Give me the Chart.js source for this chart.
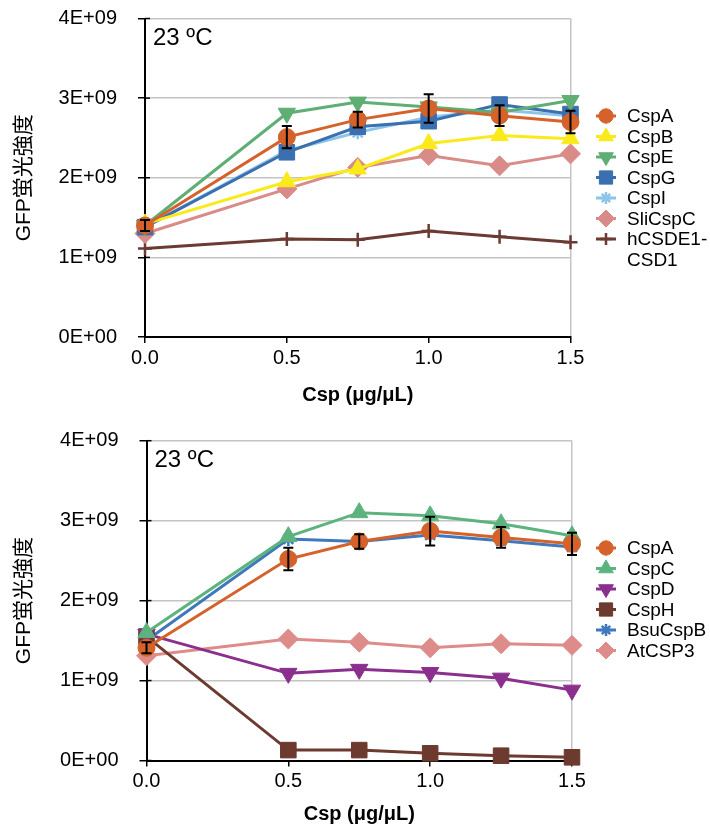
<!DOCTYPE html>
<html><head><meta charset="utf-8">
<script src="https://cdn.jsdelivr.net/npm/chart.js@4"></script>
<style>html,body{margin:0;padding:0;background:#fff;} canvas{display:block;position:absolute;left:0;}</style>
</head><body>
<canvas id="c1" width="710" height="415" style="top:0"></canvas>
<canvas id="c2" width="710" height="416" style="top:415px"></canvas>
<script>
// ---- data ----
const xValues = [0, 0.5, 0.75, 1.0, 1.25, 1.5];
const xTicks = [0, 0.5, 1.0, 1.5];
const yTicks = [0, 1e9, 2e9, 3e9, 4e9];
const tempLabel = '23 ºC';
const yTitle = 'GFP蛍光強度';
const xTitle = 'Csp (μg/μL)';

// top chart
const topNames = ['CspA', 'CspB', 'CspE', 'CspG', 'CspI', 'SliCspC', 'hCSDE1-CSD1'];
const topCspA = [1.40e9, 2.51e9, 2.73e9, 2.87e9, 2.78e9, 2.70e9];
const topCspAErr = [0.07e9, 0.14e9, 0.10e9, 0.18e9, 0.13e9, 0.14e9];
const topCspB = [1.42e9, 1.95e9, 2.11e9, 2.43e9, 2.53e9, 2.49e9];
const topCspE = [1.40e9, 2.81e9, 2.95e9, 2.89e9, 2.82e9, 2.97e9];
const topCspG = [1.38e9, 2.32e9, 2.64e9, 2.71e9, 2.92e9, 2.80e9];
const topCspI = [1.38e9, 2.34e9, 2.57e9, 2.76e9, 2.85e9, 2.78e9];
const topSliCspC = [1.30e9, 1.86e9, 2.13e9, 2.28e9, 2.15e9, 2.30e9];
const topHCSDE1 = [1.11e9, 1.23e9, 1.22e9, 1.33e9, 1.26e9, 1.19e9];

// bottom chart
const botNames = ['CspA', 'CspC', 'CspD', 'CspH', 'BsuCspB', 'AtCSP3'];
const botCspA = [1.41e9, 2.52e9, 2.74e9, 2.87e9, 2.79e9, 2.71e9];
const botCspAErr = [0.07e9, 0.14e9, 0.09e9, 0.18e9, 0.13e9, 0.14e9];
const botCspC = [1.60e9, 2.80e9, 3.10e9, 3.06e9, 2.96e9, 2.81e9];
const botCspD = [1.58e9, 1.09e9, 1.14e9, 1.10e9, 1.03e9, 0.88e9];
const botCspH = [1.55e9, 0.13e9, 0.13e9, 0.09e9, 0.06e9, 0.04e9];
const botBsuCspB = [1.50e9, 2.77e9, 2.74e9, 2.82e9, 2.75e9, 2.67e9];
const botAtCSP3 = [1.31e9, 1.52e9, 1.48e9, 1.41e9, 1.46e9, 1.44e9];

// ---- styles ----
const FONT = "'Liberation Sans', Arial, 'Noto Sans CJK JP', sans-serif";
const GRID = '#c4c4c4';

function pts(ys) { return ys.map((y, i) => ({ x: xValues[i], y })); }
function ds(label, ys, color, style, radius, opts) {
  const open = (style === 'star' || style === 'cross');
  return Object.assign({
    label, data: pts(ys), borderColor: color, backgroundColor: color,
    borderWidth: 3, pointStyle: style, pointRadius: radius,
    pointBackgroundColor: color, pointBorderColor: color,
    pointBorderWidth: open ? 2.5 : 1, tension: 0, clip: false
  }, opts || {});
}

function fmtSci(v) {
  if (v === 0) return '0E+00';
  const e = Math.floor(Math.log10(v) + 1e-9);
  const m = Math.round(v / Math.pow(10, e));
  return m + 'E+' + String(e).padStart(2, '0');
}

const extras = {
  id: 'extras',
  afterDatasetsDraw(chart, args, o) {
    const { ctx, chartArea: ca, scales: { x, y } } = chart;
    ctx.save();
    // inner tick crosses on y axis
    ctx.strokeStyle = '#000'; ctx.lineWidth = 1.5;
    yTicks.forEach(v => { const py = y.getPixelForValue(v); ctx.beginPath(); ctx.moveTo(ca.left, py); ctx.lineTo(ca.left + 5, py); ctx.stroke(); });
    // error bars on CspA
    const vals = o.errBase, errs = o.err;
    ctx.strokeStyle = '#000'; ctx.lineWidth = 2;
    vals.forEach((v, i) => {
      const px = x.getPixelForValue(xValues[i]);
      const y1 = y.getPixelForValue(v - errs[i]), y2 = y.getPixelForValue(v + errs[i]);
      ctx.beginPath();
      ctx.moveTo(px, y1); ctx.lineTo(px, y2);
      ctx.moveTo(px - 5, y1); ctx.lineTo(px + 5, y1);
      ctx.moveTo(px - 5, y2); ctx.lineTo(px + 5, y2);
      ctx.stroke();
    });
    // temperature label
    ctx.fillStyle = '#000'; ctx.font = '24px ' + FONT; ctx.textBaseline = 'middle'; ctx.textAlign = 'left';
    ctx.fillText(tempLabel, ca.left + 8, ca.top + 20);
    // legend
    const lx = o.legendX, ly0 = o.legendY, step = o.legendStep;
    ctx.font = '19px ' + FONT;
    let row = 0;
    chart.data.datasets.forEach(d => {
      const ly = ly0 + row * step;
      ctx.strokeStyle = d.borderColor; ctx.lineWidth = 3;
      ctx.beginPath(); ctx.moveTo(lx - 10, ly); ctx.lineTo(lx + 10, ly); ctx.stroke();
      ctx.fillStyle = d.pointBackgroundColor; ctx.strokeStyle = d.pointBorderColor;
      ctx.lineWidth = d.pointBorderWidth;
      Chart.helpers.drawPoint(ctx, { pointStyle: d.pointStyle, rotation: d.pointRotation || 0, radius: d.pointRadius * 0.85, borderWidth: d.pointBorderWidth }, lx, ly);
      ctx.fillStyle = '#000';
      const parts = d.legendLines || [d.label];
      parts.forEach((t, k) => { ctx.fillText(t, lx + 21, ly + 1 + k * step); });
      row += parts.length;
    });
    ctx.restore();
  }
};

function makeChart(id, datasets, geo, err, errBase) {
  const canvas = document.getElementById(id);
  return new Chart(canvas, {
    type: 'line',
    data: { datasets },
    plugins: [extras],
    options: {
      responsive: false, animation: false, devicePixelRatio: 1,
      layout: { padding: { left: 0, top: geo.top, right: 710 - geo.right, bottom: geo.padBottom } },
      plugins: {
        legend: { display: false }, tooltip: { enabled: false },
        extras: { err, errBase, legendX: 606, legendY: geo.legendY, legendStep: 20.5 }
      },
      scales: {
        x: {
          type: 'linear', min: 0, max: 1.5,
          afterFit(s) { s.height = geo.xHeight; s.paddingLeft = 0; s.paddingRight = 0; },
          afterBuildTicks(s) { s.ticks = xTicks.map(v => ({ value: v })); },
          ticks: { color: '#000', font: { family: FONT, size: 20 }, padding: 3, maxRotation: 0,
            callback: v => Number(v).toFixed(1) },
          grid: { color: c => (c.tick && c.tick.value === 1.5) ? GRID : 'rgba(0,0,0,0)', lineWidth: 1.5,
            tickColor: '#000', tickLength: 6, drawTicks: true },
          border: { color: '#000', width: 2 },
          title: { display: true, text: xTitle, color: '#000', font: { family: FONT, size: 20, weight: 'bold' }, padding: { top: 0, bottom: 0 } }
        },
        y: {
          type: 'linear', min: 0, max: 4e9,
          afterFit(s) { s.width = geo.left; s.paddingTop = 0; s.paddingBottom = 0; },
          afterBuildTicks(s) { s.ticks = yTicks.map(v => ({ value: v })); },
          ticks: { color: '#000', font: { family: FONT, size: 20 }, padding: 21, callback: v => fmtSci(v) },
          grid: { color: c => (c.tick && c.tick.value === 0) ? 'rgba(0,0,0,0)' : GRID, lineWidth: 1.5,
            tickColor: '#000', tickLength: 7 },
          border: { color: '#000', width: 2 },
          title: { display: true, text: yTitle, color: '#000', font: { family: FONT, size: 21 }, padding: { top: 12, bottom: 0 } }
        }
      }
    }
  });
}

const topSets = [
  ds(topNames[0], topCspA, '#D4622A', 'circle', 8.5),
  ds(topNames[1], topCspB, '#FBEA1A', 'triangle', 10),
  ds(topNames[2], topCspE, '#5FAE73', 'triangle', 10, { pointRotation: 180 }),
  ds(topNames[3], topCspG, '#3A6FB0', 'rect', 11),
  ds(topNames[4], topCspI, '#8CC4EA', 'star', 7),
  ds(topNames[5], topSliCspC, '#D98B88', 'rectRot', 10),
  ds(topNames[6], topHCSDE1, '#6B3B33', 'cross', 7, { legendLines: ['hCSDE1-', 'CSD1'] })
];
const botSets = [
  ds(botNames[0], botCspA, '#D4622A', 'circle', 8.5),
  ds(botNames[1], botCspC, '#5DB37E', 'triangle', 10),
  ds(botNames[2], botCspD, '#8B2F8F', 'triangle', 10, { pointRotation: 180 }),
  ds(botNames[3], botCspH, '#6C3A2F', 'rect', 11),
  ds(botNames[4], botBsuCspB, '#3F78BC', 'star', 7),
  ds(botNames[5], botAtCSP3, '#DE8C8A', 'rectRot', 10)
];

makeChart('c1', topSets, { left: 145, right: 570.5, top: 18.5, xHeight: 70, padBottom: 8, legendY: 116 }, topCspAErr, topCspA);
makeChart('c2', botSets, { left: 146.5, right: 572, top: 25.7, xHeight: 66, padBottom: 4.5, legendY: 133 }, botCspAErr, botCspA);
</script>
</body></html>
